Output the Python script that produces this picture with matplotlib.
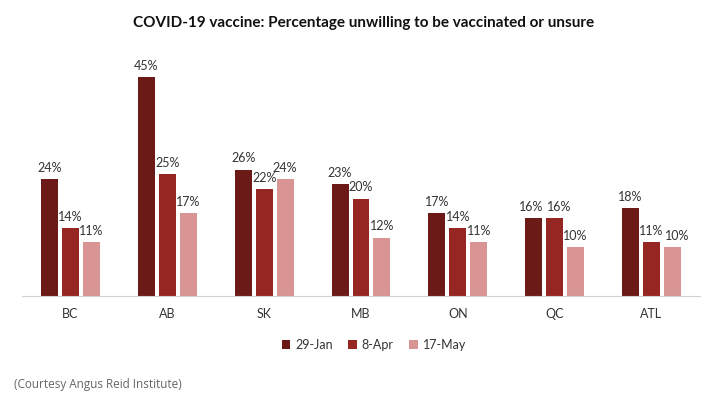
import numpy as np
import matplotlib.pyplot as plt

plt.rcParams['font.family'] = ['Lato', 'DejaVu Sans']

# 数据
regions = ['BC', 'AB', 'SK', 'MB', 'ON', 'QC', 'ATL']
series_names = ['29-Jan', '8-Apr', '17-May']
jan_29 = [24, 45, 26, 23, 17, 16, 18]
apr_8 = [14, 25, 22, 20, 14, 16, 11]
may_17 = [11, 17, 24, 12, 11, 10, 10]
colors = ['#6B1A17', '#952622', '#D99594']

fig = plt.figure(figsize=(7.12, 4.11), dpi=100)
ax = fig.add_axes([0.031, 0.280, 0.952, 0.591])

x = np.arange(len(regions))
width = 0.175
offsets = [-0.216, 0.0, 0.216]
all_vals = [jan_29, apr_8, may_17]

for k, (vals, name, color, off) in enumerate(zip(all_vals, series_names, colors, offsets)):
    bars = ax.bar(x + off, vals, width, color=color, label=name)
    for i, (b, v) in enumerate(zip(bars, vals)):
        # 相邻标签高度接近时错开，像Excel那样
        shift = 0.0
        if k > 0 and abs(all_vals[k - 1][i] - v) < 2:
            shift += 0.045
        if k < 2 and all_vals[k + 1][i] == v:
            shift -= 0.03
        ax.text(b.get_x() + b.get_width() / 2 + shift, v + 1.1, f'{v}%',
                ha='center', va='bottom', fontsize=9, color='#333333')

ax.set_xlim(-0.5, len(regions) - 0.5)
ax.set_ylim(0, 50)
ax.set_xticks(x)
ax.set_xticklabels(regions, fontsize=9, color='#333333')
ax.tick_params(axis='x', length=0, pad=9)
ax.set_yticks([])
for s in ['top', 'right', 'left']:
    ax.spines[s].set_visible(False)
ax.spines['bottom'].set_color('#D0D0D0')

fig.text(0.51, 0.945, 'COVID-19 vaccine: Percentage unwilling to be vaccinated or unsure',
         ha='center', va='center', fontsize=11, fontweight='bold', color='#111111')

fig.legend(loc='center', bbox_to_anchor=(0.525, 0.16), ncol=3, frameon=False,
           fontsize=9, handlelength=0.7, handleheight=0.7, handletextpad=0.4,
           columnspacing=1.2, labelcolor='#333333')

fig.text(0.02, 0.065, '(Courtesy Angus Reid Institute)', ha='left', va='center',
         fontsize=8.5, color='#666666', family=['Open Sans', 'DejaVu Sans'])

fig.savefig('out.png', dpi=100)
